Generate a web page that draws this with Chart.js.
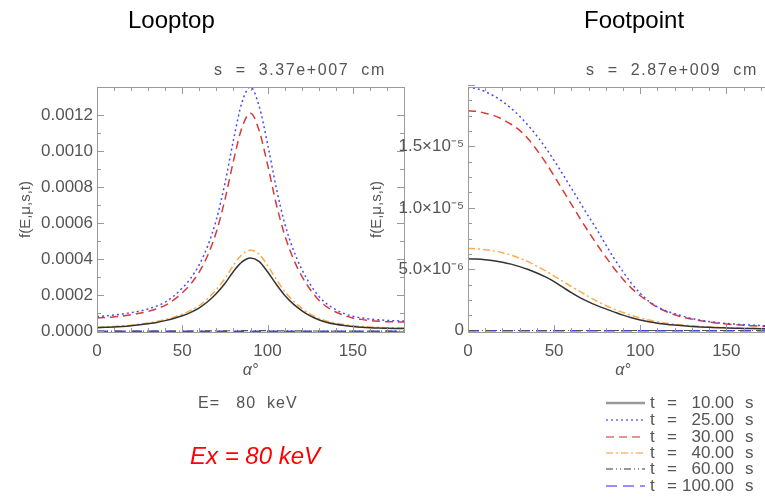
<!DOCTYPE html>
<html>
<head>
<meta charset="utf-8">
<script src="https://cdn.jsdelivr.net/npm/chart.js@4.4.1/dist/chart.umd.min.js"></script>
<style>
body{margin:0;width:765px;height:497px;overflow:hidden;background:#fff;position:relative;font-family:"Liberation Sans",Arial,sans-serif;}
.box{position:absolute;}
.txt{position:absolute;white-space:pre;color:#555;line-height:1;}
.ttl{position:absolute;white-space:pre;color:#000;font-size:24px;line-height:1;}
.leg{position:absolute;left:604px;height:16px;width:160px;font-size:17px;color:#555;line-height:16px;}
.leg svg{position:absolute;left:0;top:3px;}
.leg .t{position:absolute;left:46px;}
.leg .eq{position:absolute;left:63px;}
.leg .n{position:absolute;right:30px;text-align:right;}
.leg .s{position:absolute;left:141px;}
</style>
</head>
<body>
<div class="box" style="left:0;top:0;width:430px;height:400px"><canvas id="loop"></canvas></div>
<div class="box" style="left:340px;top:0;width:460px;height:400px"><canvas id="foot"></canvas></div>

<div class="ttl" style="left:128px;top:8px">Looptop</div>
<div class="ttl" style="left:584px;top:8px">Footpoint</div>
<div class="txt" style="left:214px;top:62px;font-size:16px;letter-spacing:1.6px">s  =  3.37e+007  cm</div>
<div class="txt" style="left:586px;top:62px;font-size:16px;letter-spacing:1.6px">s  =  2.87e+009  cm</div>
<div class="txt" style="left:198px;top:395px;font-size:16px;letter-spacing:1px">E=   80  keV</div>
<div class="txt" style="left:190px;top:444px;font-size:24px;color:#f00;font-style:italic">Ex = 80 keV</div>
<div id="legend"></div>

<script>
// pitch angle grid (degrees)
var alpha = [0,5,10,15,20,25,30,35,40,45,50,55,60,65,70,75,80,85,90,95,100,105,110,115,120,125,130,135,140,145,150,155,160,165,170,175,180];

var timeLabels = ['10.00', '25.00', '30.00', '40.00', '60.00', '100.00'];

// Looptop, s = 3.37e+007 cm
var loopT10 = [2.0e-5,2.2e-5,2.4e-5,2.7e-5,3.1e-5,3.6e-5,4.2e-5,4.9e-5,5.9e-5,7.1e-5,8.6e-5,1.05e-4,1.30e-4,1.65e-4,2.10e-4,2.65e-4,3.32e-4,3.85e-4,4.07e-4,3.88e-4,3.30e-4,2.62e-4,2.00e-4,1.52e-4,1.15e-4,8.5e-5,6.4e-5,4.9e-5,3.9e-5,3.2e-5,2.7e-5,2.3e-5,2.0e-5,1.8e-5,1.7e-5,1.6e-5,1.5e-5];
var loopT25 = [8.2e-5,8.5e-5,9.0e-5,9.6e-5,1.03e-4,1.12e-4,1.24e-4,1.40e-4,1.62e-4,1.95e-4,2.40e-4,2.95e-4,3.70e-4,4.75e-4,6.20e-4,8.20e-4,1.06e-3,1.27e-3,1.355e-3,1.25e-3,1.04e-3,8.0e-4,6.0e-4,4.55e-4,3.45e-4,2.60e-4,1.95e-4,1.50e-4,1.20e-4,9.8e-5,8.3e-5,7.4e-5,6.8e-5,6.4e-5,6.0e-5,5.8e-5,5.7e-5];
var loopT30 = [7.4e-5,7.6e-5,8.0e-5,8.5e-5,9.2e-5,1.0e-4,1.1e-4,1.25e-4,1.44e-4,1.74e-4,2.14e-4,2.63e-4,3.30e-4,4.23e-4,5.52e-4,7.30e-4,9.45e-4,1.13e-3,1.21e-3,1.115e-3,9.25e-4,7.1e-4,5.35e-4,4.05e-4,3.07e-4,2.32e-4,1.74e-4,1.34e-4,1.07e-4,8.8e-5,7.4e-5,6.6e-5,6.0e-5,5.6e-5,5.3e-5,5.2e-5,5.1e-5];
var loopT40 = [2.3e-5,2.5e-5,2.7e-5,3.0e-5,3.4e-5,4.0e-5,4.6e-5,5.4e-5,6.5e-5,7.8e-5,9.5e-5,1.16e-4,1.43e-4,1.82e-4,2.32e-4,2.92e-4,3.66e-4,4.25e-4,4.50e-4,4.28e-4,3.65e-4,2.90e-4,2.22e-4,1.69e-4,1.28e-4,9.5e-5,7.2e-5,5.6e-5,4.5e-5,3.7e-5,3.1e-5,2.7e-5,2.4e-5,2.2e-5,2.0e-5,1.9e-5,1.8e-5];
var loopT60 = [1.0e-6,1.0e-6,1.0e-6,1.0e-6,1.1e-6,1.1e-6,1.2e-6,1.2e-6,1.3e-6,1.4e-6,1.5e-6,1.6e-6,1.8e-6,2.0e-6,2.3e-6,2.7e-6,3.2e-6,3.6e-6,3.8e-6,3.6e-6,3.2e-6,2.7e-6,2.3e-6,2.0e-6,1.8e-6,1.6e-6,1.5e-6,1.4e-6,1.3e-6,1.2e-6,1.2e-6,1.1e-6,1.1e-6,1.0e-6,1.0e-6,1.0e-6,1.0e-6];
var loopT100 = [2e-7,2e-7,2e-7,2e-7,2e-7,2e-7,2e-7,2e-7,2e-7,2e-7,2e-7,2e-7,2e-7,2e-7,2e-7,2e-7,2e-7,2e-7,2e-7,2e-7,2e-7,2e-7,2e-7,2e-7,2e-7,2e-7,2e-7,2e-7,2e-7,2e-7,2e-7,2e-7,2e-7,2e-7,2e-7,2e-7,2e-7];

// Footpoint, s = 2.87e+009 cm
var footT10 = [5.85e-6,5.83e-6,5.78e-6,5.7e-6,5.58e-6,5.42e-6,5.22e-6,4.98e-6,4.7e-6,4.38e-6,4.0e-6,3.55e-6,3.1e-6,2.7e-6,2.35e-6,2.05e-6,1.78e-6,1.52e-6,1.27e-6,1.06e-6,8.8e-7,7.4e-7,6.2e-7,5.3e-7,4.6e-7,4.0e-7,3.5e-7,3.1e-7,2.8e-7,2.5e-7,2.3e-7,2.1e-7,1.9e-7,1.8e-7,1.7e-7,1.6e-7,1.5e-7];
var footT25 = [1.98e-5,1.97e-5,1.945e-5,1.91e-5,1.865e-5,1.81e-5,1.745e-5,1.67e-5,1.585e-5,1.49e-5,1.385e-5,1.275e-5,1.16e-5,1.045e-5,9.3e-6,8.2e-6,7.0e-6,5.85e-6,4.8e-6,3.85e-6,3.05e-6,2.4e-6,1.95e-6,1.62e-6,1.38e-6,1.18e-6,1.0e-6,8.6e-7,7.5e-7,6.6e-7,6.0e-7,5.5e-7,5.0e-7,4.6e-7,4.2e-7,4.0e-7,3.8e-7];
var footT30 = [1.79e-5,1.785e-5,1.77e-5,1.75e-5,1.72e-5,1.68e-5,1.63e-5,1.56e-5,1.47e-5,1.37e-5,1.26e-5,1.145e-5,1.03e-5,9.15e-6,8.05e-6,7.0e-6,6.0e-6,5.05e-6,4.2e-6,3.45e-6,2.85e-6,2.35e-6,1.9e-6,1.57e-6,1.3e-6,1.1e-6,9.5e-7,8.2e-7,7.0e-7,6.2e-7,5.5e-7,4.9e-7,4.4e-7,4.0e-7,3.7e-7,3.5e-7,3.4e-7];
var footT40 = [6.7e-6,6.67e-6,6.6e-6,6.5e-6,6.35e-6,6.15e-6,5.9e-6,5.62e-6,5.26e-6,4.88e-6,4.45e-6,4.02e-6,3.6e-6,3.2e-6,2.78e-6,2.4e-6,2.05e-6,1.75e-6,1.48e-6,1.24e-6,1.04e-6,8.7e-7,7.3e-7,6.2e-7,5.3e-7,4.6e-7,4.0e-7,3.5e-7,3.1e-7,2.8e-7,2.5e-7,2.3e-7,2.1e-7,2.0e-7,1.9e-7,1.8e-7,1.7e-7];
var footT60 = [2e-8,2e-8,2e-8,2e-8,2e-8,2e-8,2e-8,2e-8,2e-8,2e-8,2e-8,2e-8,2e-8,2e-8,2e-8,2e-8,2e-8,2e-8,2e-8,2e-8,2e-8,2e-8,2e-8,2e-8,2e-8,2e-8,2e-8,2e-8,2e-8,2e-8,2e-8,2e-8,2e-8,2e-8,2e-8,2e-8,2e-8];
var footT100 = [1e-8,1e-8,1e-8,1e-8,1e-8,1e-8,1e-8,1e-8,1e-8,1e-8,1e-8,1e-8,1e-8,1e-8,1e-8,1e-8,1e-8,1e-8,1e-8,1e-8,1e-8,1e-8,1e-8,1e-8,1e-8,1e-8,1e-8,1e-8,1e-8,1e-8,1e-8,1e-8,1e-8,1e-8,1e-8,1e-8,1e-8];

var loopTicks = [0, 0.0002, 0.0004, 0.0006, 0.0008, 0.0010, 0.0012];
var footTicks = [0, 5e-6, 1e-5, 1.5e-5];
var footTickLabels = ['0', '5.0\u00d710\u207b\u2076', '1.0\u00d710\u207b\u2075', '1.5\u00d710\u207b\u2075'];
var xTicks = [0, 50, 100, 150];

// line styles per time
var styles = [
    {color:'#333333', dash:[], width:1.5, legColor:'#999999', legWidth:2.5},
    {color:'#4a4aff', dash:[2,3], width:1.5, legColor:'#6a6aff', legWidth:1.5},
    {color:'#d83a3a', dash:[8,5], width:1.5, legColor:'#e07070', legWidth:1.5},
    {color:'#ffab4a', dash:[7,3,2,3], width:1.5, legColor:'#ffb870', legWidth:1.5},
    {color:'#555555', dash:[7,3,1,3,1,3], width:1.2, legColor:'#777777', legWidth:1.5},
    {color:'#4040ff', dash:[11,6], width:1.5, legColor:'#7070ff', legWidth:1.5}
];

function makeSet(values, i){
    var pts = [];
    for(var k = 0; k < alpha.length; k++){
        pts.push({x: alpha[k], y: values[k]});
    }
    return {
        label: 't = ' + timeLabels[i] + ' s',
        data: pts,
        borderColor: styles[i].color,
        borderDash: styles[i].dash,
        borderWidth: styles[i].width,
        pointRadius: 0,
        fill: false,
        cubicInterpolationMode: 'monotone'
    };
}

// box round the plot with inward IDL style ticks
var frameTicks = {
    id: 'frameTicks',
    afterDatasetsDraw: function(chart, args, opts){
        var ctx = chart.ctx, a = chart.chartArea;
        var xs = chart.scales.x, ys = chart.scales.y;
        ctx.save();
        ctx.strokeStyle = '#9a9a9a';
        ctx.lineWidth = 1;
        ctx.strokeRect(Math.round(a.left)+0.5, Math.round(a.top)+0.5, Math.round(a.right-a.left), Math.round(a.bottom-a.top));
        ctx.beginPath();
        for(var v = 0; v <= 180; v += 10){
            var px = Math.round(xs.getPixelForValue(v)) + 0.5;
            var len = (v % 50 == 0) ? 7 : 4;
            ctx.moveTo(px, a.bottom); ctx.lineTo(px, a.bottom - len);
            ctx.moveTo(px, a.top); ctx.lineTo(px, a.top + len);
        }
        var n = Math.round(opts.yMax / opts.yMinor);
        for(var j = 0; j <= n; j++){
            var yv = j * opts.yMinor;
            var py = Math.round(ys.getPixelForValue(yv)) + 0.5;
            var ylen = (j % opts.perMajor == 0) ? 7 : 4;
            ctx.moveTo(a.left, py); ctx.lineTo(a.left + ylen, py);
            ctx.moveTo(a.right, py); ctx.lineTo(a.right - ylen, py);
        }
        ctx.stroke();
        ctx.restore();
    }
};

function makeChart(id, sets, yMin, yMax, yTicks, yLabel, axisWidth, titlePad, padRight, frameOpts){
    var ctx = document.getElementById(id).getContext('2d');
    return new Chart(ctx, {
        type: 'line',
        data: {datasets: sets},
        plugins: [frameTicks],
        options: {
            responsive: true,
            maintainAspectRatio: false,
            animation: false,
            layout: {padding: {top: 87, right: padRight, bottom: 20, left: 0}},
            plugins: {
                legend: {display: false},
                tooltip: {enabled: false},
                frameTicks: frameOpts
            },
            scales: {
                x: {
                    type: 'linear', min: 0, max: 180,
                    grid: {display: false, drawTicks: false},
                    border: {display: false},
                    afterBuildTicks: function(scale){
                        scale.ticks = xTicks.map(function(v){ return {value: v}; });
                    },
                    afterFit: function(scale){ scale.height = 48; },
                    ticks: {color: '#555', font: {size: 17, family: 'Liberation Sans'}, padding: 9, maxRotation: 0},
                    title: {display: true, text: '\u03b1\u00b0', color: '#555', font: {size: 16, style: 'italic', family: 'Liberation Sans'}, padding: 0}
                },
                y: {
                    min: yMin, max: yMax,
                    grid: {display: false, drawTicks: false},
                    border: {display: false},
                    afterBuildTicks: function(scale){
                        scale.ticks = yTicks.map(function(v){ return {value: v}; });
                    },
                    afterFit: function(scale){ scale.width = axisWidth; },
                    ticks: {color: '#555', font: {size: 17, family: 'Liberation Sans'}, padding: 4, callback: yLabel},
                    title: {display: true, text: 'f(E,\u03bc,s,t)', color: '#555', font: {size: 15, family: 'Liberation Sans'}, padding: {top: titlePad, bottom: 0}}
                }
            }
        }
    });
}

var loopSets = [loopT10, loopT25, loopT30, loopT40, loopT60, loopT100].map(makeSet);
var footSets = [footT10, footT25, footT30, footT40, footT60, footT100].map(makeSet);

makeChart('loop', loopSets, -0.000004, 0.001355, loopTicks,
    function(v){ return Number(v).toFixed(4); }, 97, 17, 26,
    {yMax: 0.0012, yMinor: 0.0001, perMajor: 2});

makeChart('foot', footSets, -0.0000001, 0.00001983, footTicks,
    function(v, i){ return footTickLabels[i]; }, 128, 28, 22,
    {yMax: 0.0000199, yMinor: 0.00000125, perMajor: 4});

// legend rows (bottom right)
var legend = document.getElementById('legend');
var rowTop = [395, 412, 429, 445, 461, 478];
for(var i = 0; i < timeLabels.length; i++){
    var row = document.createElement('div');
    row.className = 'leg';
    row.style.top = rowTop[i] + 'px';
    var dash = styles[i].dash.length ? styles[i].dash.join(',') : 'none';
    row.innerHTML = '<svg width="42" height="10"><line x1="2" y1="5" x2="41" y2="5" stroke="' + styles[i].legColor +
        '" stroke-width="' + styles[i].legWidth + '" stroke-dasharray="' + dash + '"/></svg>' +
        '<span class="t">t</span><span class="eq">=</span><span class="n">' + timeLabels[i] + '</span><span class="s">s</span>';
    legend.appendChild(row);
}
</script>
</body>
</html>
